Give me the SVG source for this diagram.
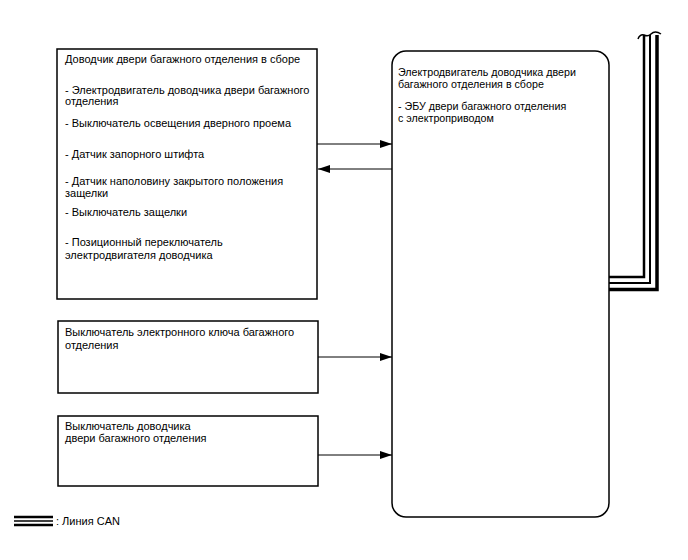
<svg xmlns="http://www.w3.org/2000/svg" width="688" height="560" viewBox="0 0 688 560">
<style>
  .box{fill:#fff;stroke:#000;stroke-width:1.5}
  .t{font-family:"Liberation Sans",Arial,sans-serif;font-size:11px;fill:#000}
  .te{font-family:"Liberation Sans",Arial,sans-serif;font-size:10.7px;fill:#000}
  .ln{stroke:#000;stroke-width:1;fill:none}
  .canb{stroke:#000;fill:none}
</style>
<defs>
  <marker id="ah" markerWidth="12" markerHeight="8" refX="12" refY="4" orient="auto" markerUnits="userSpaceOnUse">
    <path d="M0,0 L12,4 L0,8 Z" fill="#000"/>
  </marker>
</defs>
<rect width="688" height="560" fill="#fff"/>
<g id="connectors">
  <line class="ln" x1="317" y1="144" x2="392" y2="144" marker-end="url(#ah)"/>
  <line class="ln" x1="392" y1="169" x2="318" y2="169" marker-end="url(#ah)"/>
  <line class="ln" x1="318" y1="357" x2="392" y2="357" marker-end="url(#ah)"/>
  <line class="ln" x1="318" y1="455" x2="392" y2="455" marker-end="url(#ah)"/>
  <g id="can">
    <path class="canb" d="M609,277 H644 V35" stroke-width="2.5"/>
    <path class="canb" d="M609,283 H650 V35" stroke-width="2"/>
    <path class="canb" d="M609,289.5 H657 V35" stroke-width="3.5"/>
    <path d="M638,39 Q640,34 644,35 Q648,37 651,34 Q655,30 661,34" fill="none" stroke="#000" stroke-width="1.5"/>
  </g>
</g>
<g id="node-closer">
  <rect class="box" x="57" y="49" width="260" height="250"/>
  <text class="t" x="65" y="63">Доводчик двери багажного отделения в сборе</text>
  <text class="t" x="65" y="94">- Электродвигатель доводчика двери багажного</text>
  <text class="t" x="65" y="105">отделения</text>
  <text class="t" x="65" y="127">- Выключатель освещения дверного проема</text>
  <text class="t" x="65" y="158">- Датчик запорного штифта</text>
  <text class="t" x="65" y="185">- Датчик наполовину закрытого положения</text>
  <text class="t" x="65" y="197">защелки</text>
  <text class="t" x="65" y="216">- Выключатель защелки</text>
  <text class="t" x="65" y="246">- Позиционный переключатель</text>
  <text class="t" x="65" y="259">электродвигателя доводчика</text>
</g>
<g id="node-key-switch">
  <rect class="box" x="58" y="321" width="260" height="72"/>
  <text class="t" x="65" y="336">Выключатель электронного ключа багажного</text>
  <text class="t" x="65" y="349">отделения</text>
</g>
<g id="node-closer-switch">
  <rect class="box" x="58" y="416" width="260" height="70"/>
  <text class="t" x="65" y="430">Выключатель доводчика</text>
  <text class="t" x="65" y="442">двери багажного отделения</text>
</g>
<g id="node-ecu">
  <rect class="box" x="392" y="51" width="217" height="466" rx="14" ry="14" stroke-width="2"/>
  <text class="te" x="398" y="76">Электродвигатель доводчика двери</text>
  <text class="te" x="398" y="88">багажного отделения в сборе</text>
  <text class="te" x="398" y="110">- ЭБУ двери багажного отделения</text>
  <text class="te" x="398" y="122">с электроприводом</text>
</g>
<g id="legend">
  <line x1="14" y1="517" x2="53" y2="517" stroke="#000" stroke-width="2.5"/>
  <line x1="14" y1="521" x2="53" y2="521" stroke="#000" stroke-width="1.5"/>
  <line x1="14" y1="525" x2="53" y2="525" stroke="#000" stroke-width="2.5"/>
  <text class="t" x="56" y="525">: Линия CAN</text>
</g>
</svg>
